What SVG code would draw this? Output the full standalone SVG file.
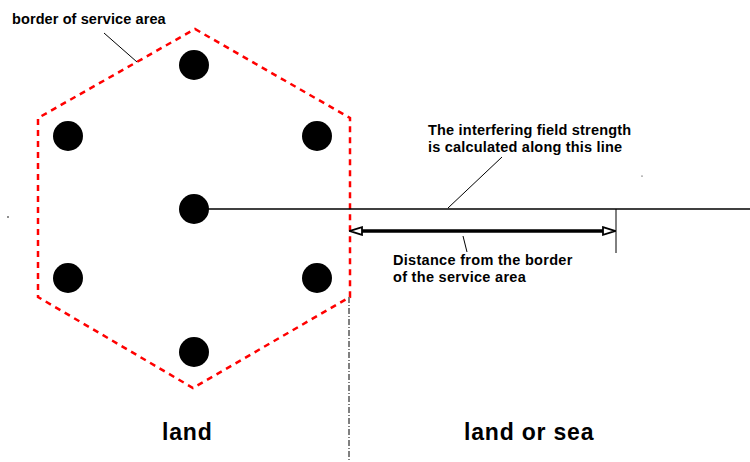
<svg xmlns="http://www.w3.org/2000/svg" width="750" height="462" viewBox="0 0 750 462">
<style>
.t{font-family:"Liberation Sans",Arial,sans-serif;font-weight:bold;fill:#000}
.s{font-size:14.5px;letter-spacing:0.2px}
.d{letter-spacing:0.3px}
.b{font-size:23px;letter-spacing:0.8px}
.tx{fill:#000}
.ln{stroke:#000;fill:none}
</style>
<defs>
<marker id="ah" viewBox="0 0 14 10" refX="13" refY="5" markerWidth="14" markerHeight="10" markerUnits="userSpaceOnUse" orient="auto-start-reverse">
<path d="M1,1.2 L13,5 L1,8.8 Z" fill="#fff" stroke="#000" stroke-width="1.8"/>
</marker>
</defs>
<rect width="750" height="462" fill="#fff"/>
<g id="border">
<polygon points="195,29 350,118 350,297 193,388 38,297 38,118" fill="none" stroke="#f00" stroke-width="2.5" stroke-dasharray="6,5"/>
</g>
<g id="transmitters">
<circle cx="194" cy="65" r="15" class="tx"/>
<circle cx="68" cy="136" r="15" class="tx"/>
<circle cx="317" cy="136" r="15" class="tx"/>
<circle cx="194" cy="209" r="15" class="tx"/>
<circle cx="68" cy="278" r="15" class="tx"/>
<circle cx="317" cy="278" r="15" class="tx"/>
<circle cx="194" cy="352" r="15" class="tx"/>
</g>
<g id="connectors">
<line x1="194" y1="209" x2="750" y2="209" class="ln" stroke-width="1.5"/>
<line x1="616" y1="209" x2="616" y2="253" class="ln" stroke-width="1"/>
<line x1="362" y1="231" x2="603" y2="231" class="ln" stroke-width="3.5"/>
<line x1="350" y1="231" x2="615" y2="231" class="ln" stroke-width="0" marker-start="url(#ah)" marker-end="url(#ah)"/>
<line x1="349" y1="297" x2="349" y2="462" class="ln" stroke-width="1" stroke-dasharray="6,2,1,2"/>
<line x1="104" y1="33" x2="137" y2="62" class="ln" stroke-width="1"/>
<line x1="448" y1="208" x2="502" y2="157" class="ln" stroke-width="1"/>
<line x1="463" y1="236" x2="467" y2="252" class="ln" stroke-width="1"/>
</g>
<g id="labels">
<text x="12" y="24" class="t s" style="letter-spacing:0.1px">border of service area</text>
<text x="428" y="135" class="t s">The interfering field strength</text>
<text x="428" y="152" class="t s">is calculated along this line</text>
<text x="393" y="265" class="t s d">Distance from the border</text>
<text x="393" y="282" class="t s d">of the service area</text>
<text x="162" y="440" class="t b">land</text>
<text x="464" y="440" class="t b">land or sea</text>
</g>
<circle cx="8" cy="217" r="0.8" fill="#000"/>
<circle cx="642" cy="176" r="0.6" fill="#000"/>
</svg>
